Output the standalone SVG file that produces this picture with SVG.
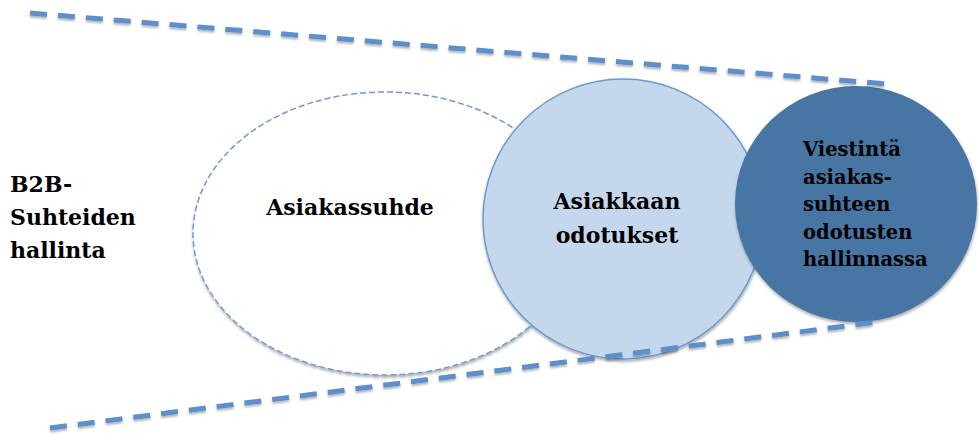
<svg xmlns="http://www.w3.org/2000/svg" width="979" height="434" viewBox="0 0 979 434">
  <defs>
    <filter id="sh" x="-10%" y="-10%" width="120%" height="130%">
      <feDropShadow dx="0.5" dy="2" stdDeviation="1.5" flood-color="#000" flood-opacity="0.35"/>
    </filter>
    <filter id="shl" x="-5%" y="-50%" width="110%" height="200%">
      <feDropShadow dx="0" dy="2" stdDeviation="1.2" flood-color="#000" flood-opacity="0.3"/>
    </filter>
  </defs>
  <style>
    .lbl { font-family: "DejaVu Serif", "Liberation Serif", serif; font-weight: bold; fill: #000; }
    .big { font-size: 22px; }
    .small { font-size: 19.5px; }
    .funnel { fill: none; stroke: #5B8FCB; stroke-width: 5; stroke-dasharray: 17 11; }
  </style>
  <rect width="979" height="434" fill="#fff"/>

  <g id="asiakassuhde">
    <ellipse cx="385" cy="233.5" rx="192" ry="141.5" fill="#fff" stroke="#6F9BD1" stroke-width="1.5" stroke-dasharray="6 3" filter="url(#sh)"/>
    <text class="lbl big" x="350" y="215" text-anchor="middle">Asiakassuhde</text>
  </g>

  <g id="asiakkaan-odotukset">
    <circle cx="623" cy="219" r="140" fill="#C5D7EC" stroke="#6A9AD0" stroke-width="1.5" filter="url(#sh)"/>
    <text class="lbl big" x="617" y="209" text-anchor="middle">Asiakkaan</text>
    <text class="lbl big" x="617" y="243" text-anchor="middle">odotukset</text>
  </g>

  <g id="viestinta">
    <ellipse cx="856" cy="204" rx="121" ry="118" fill="#4674A4" filter="url(#sh)"/>
    <text class="lbl small" x="803" y="156">Viestintä</text>
    <text class="lbl small" x="803" y="184">asiakas-</text>
    <text class="lbl small" x="803" y="211">suhteen</text>
    <text class="lbl small" x="803" y="239">odotusten</text>
    <text class="lbl small" x="803" y="266">hallinnassa</text>
  </g>

  <g id="b2b">
    <text class="lbl big" x="10" y="192">B2B-</text>
    <text class="lbl big" x="10" y="225">Suhteiden</text>
    <text class="lbl big" x="10" y="258">hallinta</text>
  </g>

  <g id="connectors" filter="url(#shl)">
    <line class="funnel" x1="30" y1="13" x2="887" y2="84"/>
    <line class="funnel" x1="50" y1="428" x2="877" y2="322"/>
  </g>
</svg>
